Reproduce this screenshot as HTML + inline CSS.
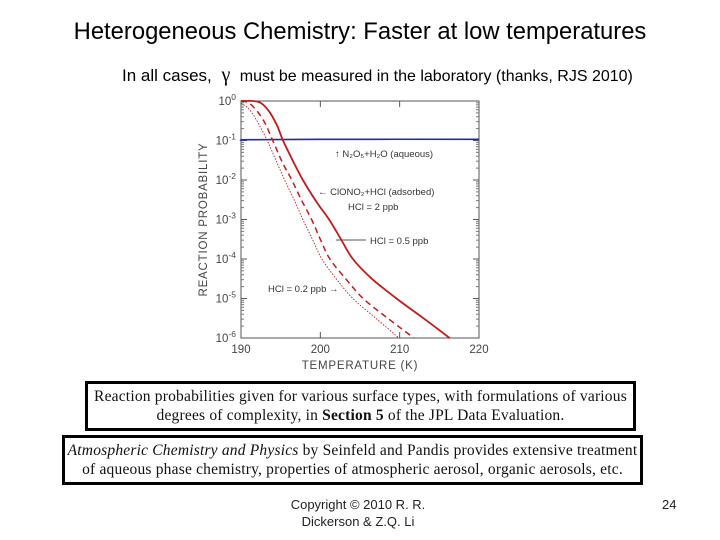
<!DOCTYPE html>
<html><head><meta charset="utf-8"><style>
body{margin:0;width:720px;height:540px;background:#fff;position:relative;overflow:hidden;font-family:"Liberation Sans",sans-serif}
.abs{position:absolute}
.box{position:absolute;border:3px solid #000;box-sizing:border-box;font-family:"Liberation Serif",serif;font-size:15.5px;text-align:center;line-height:19px;padding-top:3px;color:#111;white-space:nowrap;letter-spacing:0.2px}
</style></head><body>
<div class="abs" style="left:0;width:720px;top:18px;text-align:center;font-size:23.8px">Heterogeneous Chemistry: Faster at low temperatures</div>
<div class="abs" style="left:122px;top:64px;font-size:16px;white-space:nowrap"><span style="font-size:17px">In all cases, </span><span style="font-family:'Liberation Serif',serif;font-size:20px">&nbsp;γ&nbsp;</span> must be measured in the laboratory (thanks, RJS 2010)</div>
<svg class="abs" style="left:0;top:0" width="720" height="380">
<g id="ax" font-size="11" fill="#444"></g>
<g id="marks"></g>
</svg>
<div class="box" style="left:85px;top:381px;width:551px;height:50px">Reaction probabilities given for various surface types, with formulations of various<br>degrees of complexity, in <b>Section 5</b> of the JPL Data Evaluation.</div>
<div class="box" style="left:62px;top:435px;width:581px;height:50px"><i>Atmospheric Chemistry and Physics</i> by Seinfeld and Pandis provides extensive treatment<br>of aqueous phase chemistry, properties of atmospheric aerosol, organic aerosols, etc.</div>
<div class="abs" style="left:258px;width:200px;top:496px;text-align:center;font-size:13px;line-height:17px;color:#222">Copyright © 2010 R. R.<br>Dickerson &amp; Z.Q. Li</div>
<div class="abs" style="left:662px;top:497px;font-size:13px;color:#222">24</div>
<script>
const xTicks=[190,200,210,220];
const yExps=[0,-1,-2,-3,-4,-5,-6];
const tempSolid=[190,191.5,192.5,193.5,194.5,195.3,196.5,197.8,199.5,201.1,202.6,204.1,206.5,209.6,213,216.3];
const logSolid=[0,0,-0.05,-0.25,-0.6,-1,-1.5,-2,-2.55,-3,-3.5,-4,-4.5,-5,-5.5,-6];
const tempDashed=[190,191,192,193,194,195.2,196.4,197.6,198.9,200,201.2,203.2,205.4,208.5,211.8];
const logDashed=[0,-0.05,-0.25,-0.55,-1,-1.55,-2,-2.5,-3,-3.5,-4,-4.5,-5,-5.5,-6];
const tempDotted=[190,191,192,193.3,194.4,195.5,196.7,197.8,199,200.2,202,204.1,207,209.9];
const logDotted=[-0.05,-0.2,-0.5,-1,-1.5,-2,-2.5,-3,-3.5,-4,-4.5,-5,-5.5,-6];
const tempBlue=[190,191,200,220];
const logBlue=[-1,-0.98,-0.97,-0.97];
const X0=241,X1=479,Y0=101,Y1=338;
const sx=t=>X0+(t-190)/30*(X1-X0);
const sy=l=>Y0+(-l)/6*(Y1-Y0);
const NS="http://www.w3.org/2000/svg";
const ax=document.getElementById('ax'),mk=document.getElementById('marks');
function el(tag,attrs,parent){const e=document.createElementNS(NS,tag);for(const k in attrs)e.setAttribute(k,attrs[k]);parent.appendChild(e);return e;}
const fr=el('rect',{x:X0,y:Y0,width:X1-X0,height:Y1-Y0,fill:'none',stroke:'#555','stroke-width':1},ax);


xTicks.forEach(t=>{const x=sx(t);
 el('line',{x1:x,x2:x,y1:Y1,y2:Y1-6,stroke:'#555'},ax);el('line',{x1:x,x2:x,y1:Y0,y2:Y0+6,stroke:'#555'},ax);
 const tx=el('text',{x:x,y:Y1+15,'text-anchor':'middle','font-size':11.5},ax);tx.textContent=t;
 
 });
yExps.forEach(e=>{const y=sy(e);
 el('line',{x1:X0,x2:X0+6,y1:y,y2:y,stroke:'#555'},ax);el('line',{x1:X1,x2:X1-6,y1:y,y2:y,stroke:'#555'},ax);
 const tx=el('text',{x:X0-5,y:y+4,'text-anchor':'end','font-size':11.5},ax);tx.innerHTML='10<tspan dy="-5" font-size="8.5">'+e+'</tspan>';
 
 
 if(e>-6)for(let m=2;m<10;m++){const ym=sy(e-1+Math.log10(m));el('line',{x1:X0,x2:X0+3,y1:ym,y2:ym,stroke:'#777'},ax);el('line',{x1:X1,x2:X1-3,y1:ym,y2:ym,stroke:'#777'},ax);}});
const xl=el('text',{x:(X0+X1)/2,y:Y1+31,'text-anchor':'middle','font-size':11.5,'letter-spacing':'0.8'},ax);xl.textContent='TEMPERATURE (K)';


const yl=el('text',{x:0,y:0,'text-anchor':'middle','font-size':11.5,'letter-spacing':'0.8',transform:`translate(207,${(Y0+Y1)/2}) rotate(-90)`},ax);yl.textContent='REACTION PROBABILITY';


function line(ts,ls,style,name){
 const P=ts.map((t,i)=>[sx(t),sy(ls[i])]);
 let d='M'+P[0][0].toFixed(1)+','+P[0][1].toFixed(1);
 for(let i=0;i<P.length-1;i++){const p0=P[i-1]||P[i],p1=P[i],p2=P[i+1],p3=P[i+2]||p2;
  const c1=[p1[0]+(p2[0]-p0[0])/6,p1[1]+(p2[1]-p0[1])/6],c2=[p2[0]-(p3[0]-p1[0])/6,p2[1]-(p3[1]-p1[1])/6];
  d+=`C${c1[0].toFixed(1)},${c1[1].toFixed(1)} ${c2[0].toFixed(1)},${c2[1].toFixed(1)} ${p2[0].toFixed(1)},${p2[1].toFixed(1)}`;}
 const p=el('path',Object.assign({d:d,fill:'none'},style),mk);
 
 }
line(tempBlue,logBlue,{stroke:'#1a2fa0','stroke-width':1.6},'n2o5-aqueous-line');
line(tempSolid,logSolid,{stroke:'#c41a1a','stroke-width':1.8},'hcl-2ppb-line');
line(tempDashed,logDashed,{stroke:'#c41a1a','stroke-width':1.5,'stroke-dasharray':'6,4'},'hcl-05ppb-line');
line(tempDotted,logDotted,{stroke:'#c41a1a','stroke-width':0.9,'stroke-dasharray':'1.5,1.5'},'hcl-02ppb-line');
const notes=[[335,157,'↑ N₂O₅+H₂O (aqueous)'],[318,195,'← ClONO₂+HCl (adsorbed)'],[348,210,'HCl = 2 ppb'],[370,244,'HCl = 0.5 ppb'],[268,292,'HCl = 0.2 ppb →']];
notes.forEach(n=>{const t=el('text',{x:n[0],y:n[1],'font-size':9.5,fill:'#333'},ax);t.textContent=n[2];
 
 });
el('line',{x1:336,x2:366,y1:240,y2:240,stroke:'#555'},ax);
</script>
</body></html>
